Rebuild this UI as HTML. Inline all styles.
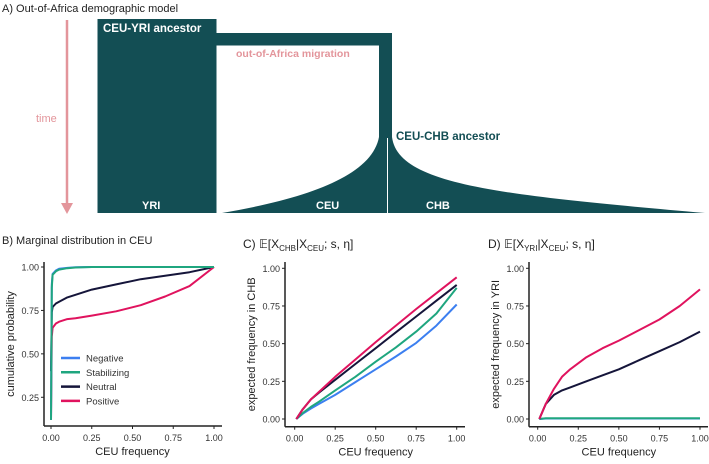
<!DOCTYPE html>
<html><head><meta charset="utf-8"><style>
body{margin:0;background:#fff;width:709px;height:459px;overflow:hidden;font-family:"Liberation Sans",sans-serif}
svg text{font-family:"Liberation Sans",sans-serif}
</style></head><body>
<svg id="fig" width="709" height="459" viewBox="0 0 709 459" xmlns="http://www.w3.org/2000/svg">
<g>
<text x="2" y="12" font-size="11" fill="#222">A) Out-of-Africa demographic model</text>
<line x1="67" y1="20" x2="67" y2="206" stroke="#e3959b" stroke-width="2.5"/>
<polygon points="61,203 73,203 67,214" fill="#e3959b"/>
<text x="36" y="122" font-size="11" fill="#e3959b">time</text>
<rect x="97.5" y="19" width="119" height="194" fill="#134e54"/>
<rect x="216" y="33" width="176" height="12.5" fill="#134e54"/>
<rect x="379" y="33" width="13" height="105" fill="#134e54"/>
<path d="M222,213 C310,198 372,175 379,137 L387,137 L387,213 Z" fill="#134e54"/>
<path d="M388,213 L388,137 L392,137 C398,185 500,195 705,213 Z" fill="#134e54"/>
<text x="103" y="32" font-size="11.5" font-weight="bold" fill="#fff">CEU-YRI ancestor</text>
<text x="236" y="57" font-size="10.5" font-weight="bold" fill="#e3959b">out-of-Africa migration</text>
<text x="396" y="140" font-size="11.5" font-weight="bold" fill="#134e54">CEU-CHB ancestor</text>
<text x="142" y="209" font-size="11" font-weight="bold" fill="#fff">YRI</text>
<text x="316" y="209" font-size="11" font-weight="bold" fill="#fff">CEU</text>
<text x="426" y="209" font-size="11" font-weight="bold" fill="#fff">CHB</text>
</g>
<text x="2" y="244" font-size="11" fill="#222">B) Marginal distribution in CEU</text>
<text x="243" y="248" font-size="12" font-family="Liberation Serif" fill="#222">C) 𝔼[X<tspan font-size="8" dy="3">CHB</tspan><tspan dy="-3">|X</tspan><tspan font-size="8" dy="3">CEU</tspan><tspan dy="-3">; s, η]</tspan></text>
<text x="488" y="248" font-size="12" font-family="Liberation Serif" fill="#222">D) 𝔼[X<tspan font-size="8" dy="3">YRI</tspan><tspan dy="-3">|X</tspan><tspan font-size="8" dy="3">CEU</tspan><tspan dy="-3">; s, η]</tspan></text>
</svg>
<script>
const colors={neg:"#3c7ff0",stab:"#1fa67f",neu:"#15153a",pos:"#e0135e"};
// Panel B data
const bX=[0,0.005,0.01,0.03,0.05,0.1,0.15,0.25,0.4,0.55,0.7,0.85,1];
const bNeg=[0.12,0.9,0.96,0.98,0.99,0.995,0.998,1,1,1,1,1,1];
const bStab=[0.12,0.88,0.955,0.975,0.985,0.993,0.997,1,1,1,1,1,1];
const bNeu=[0.4,0.74,0.77,0.79,0.80,0.825,0.84,0.87,0.9,0.93,0.95,0.97,1];
const bPos=[0.12,0.6,0.65,0.675,0.685,0.7,0.705,0.72,0.745,0.78,0.83,0.89,1];
// Panel C data
const cX=[0.01,0.05,0.1,0.15,0.25,0.375,0.5,0.625,0.75,0.875,1];
const cPos=[0,0.065,0.13,0.18,0.28,0.395,0.51,0.62,0.73,0.835,0.94];
const cNeu=[0,0.065,0.13,0.175,0.26,0.365,0.47,0.575,0.68,0.785,0.89];
const cStab=[0,0.04,0.08,0.115,0.19,0.28,0.38,0.475,0.58,0.7,0.87];
const cNeg=[0,0.035,0.07,0.1,0.16,0.245,0.33,0.415,0.505,0.62,0.76];
// Panel D data
const dX=[0.01,0.05,0.1,0.15,0.2,0.3,0.4,0.5,0.625,0.75,0.875,1];
const dPos=[0,0.1,0.2,0.28,0.33,0.41,0.47,0.52,0.59,0.66,0.75,0.86];
const dNeu=[0,0.1,0.16,0.19,0.21,0.25,0.29,0.33,0.39,0.45,0.51,0.58];
const dStab=[0,0.005,0.005,0.005,0.005,0.005,0.005,0.005,0.005,0.005,0.005,0.005];
const dNeg=[0,0.003,0.003,0.003,0.003,0.003,0.003,0.003,0.003,0.003,0.003,0.003];
const ticks=[0,0.25,0.5,0.75,1];
const tickLabels=["0.00","0.25","0.50","0.75","1.00"];
const NS="http://www.w3.org/2000/svg";
const svg=document.getElementById('fig');
function mk(t,a){const e=document.createElementNS(NS,t);for(const k in a)e.setAttribute(k,a[k]);svg.appendChild(e);return e;}
function panel(p){
 const sx=v=>p.x0+v*(p.x1-p.x0), sy=v=>p.y0+v*(p.y1-p.y0);
 let e=mk('line',{x1:p.ax,y1:p.yTop,x2:p.ax,y2:p.ay,stroke:'#222','stroke-width':1.5});
 
 
 e=mk('line',{x1:p.ax,y1:p.ay,x2:p.xRight,y2:p.ay,stroke:'#222','stroke-width':1.5});
 
 
 ticks.forEach((t,i)=>{
  if(p.yTicks.includes(t)){
   e=mk('text',{x:p.ax-5,y:sy(t)+3.5,'font-size':9,fill:'#333','text-anchor':'end'});e.textContent=tickLabels[i];
   
   
   mk('line',{x1:p.ax-3,y1:sy(t),x2:p.ax,y2:sy(t),stroke:'#222'});
  }
  e=mk('text',{x:sx(t),y:p.ay+15,'font-size':9,fill:'#333','text-anchor':'middle'});e.textContent=tickLabels[i];
  
  
  mk('line',{x1:sx(t),y1:p.ay,x2:sx(t),y2:p.ay+3,stroke:'#222'});
 });
 e=mk('text',{x:(p.x0+p.x1)/2,y:p.ay+29,'font-size':11,fill:'#222','text-anchor':'middle'});e.textContent='CEU frequency';
 
 
 const cy=(p.yTop+p.ay)/2;
 e=mk('text',{x:0,y:0,'font-size':11,fill:'#222','text-anchor':'middle',transform:`translate(${p.ax-30},${cy}) rotate(-90)`});e.textContent=p.ytitle;
 
 
 p.series.forEach(s=>{
  const pts=p.xs.map((x,i)=>sx(x).toFixed(1)+','+sy(s.v[i]).toFixed(1)).join(' ');
  const l=mk('polyline',{points:pts,fill:'none',stroke:colors[s.k],'stroke-width':2,'stroke-linejoin':'round'});
  
  
 });
}
panel({id:'panel-b',x0:51,x1:214,y0:440.7,y1:267,ax:44,ay:426,yTop:262,xRight:222,xs:bX,yTicks:[0.25,0.5,0.75,1],ytitle:'cumulative probability',
 series:[{k:'neu',v:bNeu},{k:'pos',v:bPos},{k:'neg',v:bNeg},{k:'stab',v:bStab}]});
panel({id:'panel-c',x0:294.7,x1:456.7,y0:419,y1:268.3,ax:285,ay:426.7,yTop:262,xRight:465,xs:cX,yTicks:ticks,ytitle:'expected frequency in CHB',
 series:[{k:'neg',v:cNeg},{k:'stab',v:cStab},{k:'neu',v:cNeu},{k:'pos',v:cPos}]});
panel({id:'panel-d',x0:537.7,x1:700,y0:419,y1:268.3,ax:529,ay:426.7,yTop:262,xRight:708,xs:dX,yTicks:ticks,ytitle:'expected frequency in YRI',
 series:[{k:'neg',v:dNeg},{k:'stab',v:dStab},{k:'neu',v:dNeu},{k:'pos',v:dPos}]});
// legend
const legNames=['Negative','Stabilizing','Neutral','Positive'];
const legKeys=['neg','stab','neu','pos'];
legNames.forEach((n,i)=>{
 const y=358+i*14.3;
 let e=mk('line',{x1:61,y1:y,x2:80,y2:y,stroke:colors[legKeys[i]],'stroke-width':2.5});
 
 
 e=mk('text',{x:86,y:y+3.5,'font-size':9.5,fill:'#333'});e.textContent=n;
 
 
});
</script>
</body></html>
